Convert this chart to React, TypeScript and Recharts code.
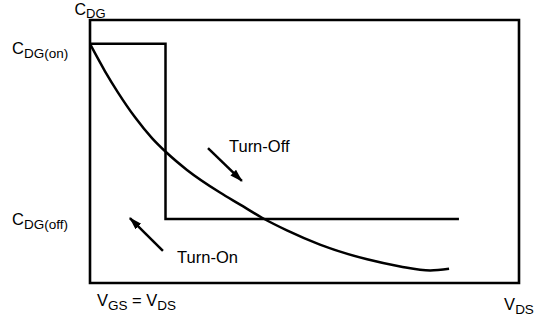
import {
  ComposedChart,
  Line,
  ReferenceArea,
  ReferenceDot,
  XAxis,
  YAxis,
} from "recharts";

// normalised V_DS (x) and C_DG (y), both 0..100
const stepX = [0, 17.6, 17.6, 86];
const stepY = [91, 91, 24.3, 24.3];

const curveX = [0, 3.5, 6.5, 10.5, 14.5, 17.7, 22.6, 30.3, 35, 40.1, 45.9, 53.6, 64.6, 72.3, 79.3, 83.7];
const curveY = [90.9, 80.5, 72.5, 63, 55, 49.8, 43, 34.4, 29.8, 24.8, 20, 14.6, 9, 6.3, 4.8, 5.4];

const turnOffArrowX = [27.5, 35.4];
const turnOffArrowY = [51.3, 38.8];
const turnOnArrowX = [17.0, 9.3];
const turnOnArrowY = [12.2, 24.7];

const annotations = [
  { label: "Turn-Off", x: 32.4, y: 49.8 },
  { label: "Turn-On", x: 20.3, y: 7.6 },
];

const yTicks = [100, 91, 24.3];
const yTickSubs = ["DG", "DG(on)", "DG(off)"];
const xTicks = [0, 100];

const toPoints = (xs: number[], ys: number[]) => xs.map((x, i) => ({ x, y: ys[i] }));

const stepData = toPoints(stepX, stepY);
const curveData = toPoints(curveX, curveY);
const turnOffData = toPoints(turnOffArrowX, turnOffArrowY);
const turnOnData = toPoints(turnOnArrowX, turnOnArrowY);

const FONT = "'Liberation Sans', Arial, sans-serif";
const MAIN = 16.5;
const SUB = 13.5;

function YTick(props: any) {
  const { y, index } = props;
  if (index === 0) {
    return (
      <text x={90} y={15} textAnchor="middle" fontFamily={FONT} fontSize={16} fill="#000">
        <tspan>C</tspan>
        <tspan dy={3} fontSize={13}>{yTickSubs[0]}</tspan>
      </text>
    );
  }
  const dy = index === 1 ? 10 : 6;
  return (
    <text x={12} y={y + dy} textAnchor="start" fontFamily={FONT} fontSize={MAIN} fill="#000">
      <tspan>C</tspan>
      <tspan dy={4} fontSize={SUB}>{yTickSubs[index]}</tspan>
    </text>
  );
}

function XTick(props: any) {
  const { x, y, index } = props;
  if (index === 0) {
    return (
      <text x={x + 7} y={y + 15} textAnchor="start" fontFamily={FONT} fontSize={MAIN} fill="#000">
        <tspan>V</tspan>
        <tspan dy={4} fontSize={SUB}>GS</tspan>
        <tspan dy={-4}> = V</tspan>
        <tspan dy={4} fontSize={SUB}>DS</tspan>
      </text>
    );
  }
  return (
    <text x={x} y={y + 19} textAnchor="middle" fontFamily={FONT} fontSize={MAIN} fill="#000">
      <tspan>V</tspan>
      <tspan dy={4} fontSize={SUB}>DS</tspan>
    </text>
  );
}

const annotationLabel = (text: string) => (props: any) => {
  const { viewBox } = props;
  return (
    <text x={viewBox.x} y={viewBox.y} textAnchor="start" fontFamily={FONT} fontSize={MAIN} fill="#000">
      {text}
    </text>
  );
};

export default function App() {
  return (
    <div style={{ width: 554, height: 322, background: "#fff" }}>
      <style>{`body{margin:0}`}</style>
      <ComposedChart
        width={554}
        height={322}
        margin={{ top: 20, right: 35, left: 0, bottom: 0 }}
      >
        <defs>
          <marker
            id="arrowHead"
            markerUnits="userSpaceOnUse"
            markerWidth={14}
            markerHeight={10}
            refX={12}
            refY={4}
            orient="auto"
          >
            <path d="M0,0 L13,4 L0,8 z" fill="#000" />
          </marker>
        </defs>
        <XAxis
          type="number"
          dataKey="x"
          domain={[0, 100]}
          ticks={xTicks}
          interval={0}
          axisLine={false}
          tickLine={false}
          height={39}
          tick={<XTick />}
          allowDataOverflow
        />
        <YAxis
          type="number"
          dataKey="y"
          domain={[0, 100]}
          ticks={yTicks}
          interval={0}
          axisLine={false}
          tickLine={false}
          width={90}
          tick={<YTick />}
          allowDataOverflow
        />
        <ReferenceArea x1={0} x2={100} y1={0} y2={100} fill="none" stroke="#000" strokeWidth={2.6} />
        <Line
          data={stepData}
          dataKey="y"
          type="linear"
          stroke="#000"
          strokeWidth={2.5}
          dot={false}
          isAnimationActive={false}
        />
        <Line
          data={curveData}
          dataKey="y"
          type="monotone"
          stroke="#000"
          strokeWidth={2.5}
          dot={false}
          isAnimationActive={false}
        />
        <Line
          data={turnOffData}
          dataKey="y"
          type="linear"
          stroke="#000"
          strokeWidth={2.5}
          dot={false}
          markerEnd="url(#arrowHead)"
          isAnimationActive={false}
        />
        <Line
          data={turnOnData}
          dataKey="y"
          type="linear"
          stroke="#000"
          strokeWidth={2.5}
          dot={false}
          markerEnd="url(#arrowHead)"
          isAnimationActive={false}
        />
        {annotations.map((a) => (
          <ReferenceDot
            key={a.label}
            x={a.x}
            y={a.y}
            r={0}
            fill="none"
            stroke="none"
            label={annotationLabel(a.label)}
          />
        ))}
      </ComposedChart>
    </div>
  );
}
